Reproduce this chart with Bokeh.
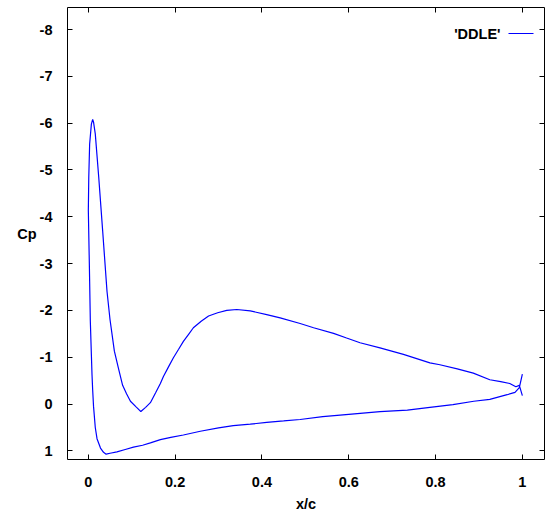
from bokeh.plotting import figure
from bokeh.models import Range1d, LinearAxis, FixedTicker, NumeralTickFormatter, Label, Arrow
from bokeh.embed import file_html
from bokeh.resources import INLINE

# Upper surface, leading edge -> trailing edge
x_upper = [0.000, 0.001, 0.003, 0.007, 0.010, 0.012, 0.016, 0.024, 0.033, 0.043,
           0.050, 0.060, 0.069, 0.079, 0.088, 0.097, 0.110, 0.121, 0.132, 0.143,
           0.155, 0.166, 0.173, 0.185, 0.196, 0.208, 0.219, 0.231, 0.242, 0.260,
           0.277, 0.298, 0.319, 0.342, 0.373, 0.411, 0.442, 0.488, 0.519, 0.565,
           0.595, 0.626, 0.672, 0.726, 0.787, 0.810, 0.850, 0.887, 0.925, 0.950,
           0.971, 0.985, 0.993, 1.000]
cp_upper = [-4.14, -4.84, -5.55, -5.98, -6.08, -6.02, -5.77, -4.84, -3.70, -2.41,
            -1.80, -1.13, -0.78, -0.40, -0.22, -0.06, 0.06, 0.16, 0.07, -0.03,
            -0.24, -0.44, -0.59, -0.80, -0.99, -1.17, -1.34, -1.49, -1.63, -1.77,
            -1.88, -1.95, -2.00, -2.02, -1.99, -1.91, -1.84, -1.72, -1.63, -1.51,
            -1.41, -1.31, -1.20, -1.06, -0.88, -0.84, -0.75, -0.66, -0.52, -0.48,
            -0.44, -0.37, -0.40, -0.18]

# Lower surface, leading edge -> trailing edge
x_lower = [0.000, 0.0025, 0.0046, 0.007, 0.0085, 0.010, 0.012, 0.016, 0.020, 0.028,
           0.035, 0.041, 0.050, 0.066, 0.085, 0.104, 0.125, 0.143, 0.166, 0.190,
           0.219, 0.258, 0.300, 0.334, 0.373, 0.411, 0.450, 0.488, 0.540, 0.600,
           0.672, 0.735, 0.787, 0.840, 0.888, 0.925, 0.965, 0.983, 0.993, 1.000]
cp_lower = [-4.14, -2.90, -1.77, -1.06, -0.62, -0.30, 0.05, 0.50, 0.74, 0.94,
            1.03, 1.07, 1.05, 1.02, 0.97, 0.92, 0.88, 0.83, 0.76, 0.71,
            0.66, 0.58, 0.51, 0.46, 0.43, 0.39, 0.36, 0.33, 0.27, 0.22,
            0.16, 0.13, 0.07, 0.01, -0.06, -0.10, -0.20, -0.25, -0.35, -0.64]

x_ticks = [0, 0.2, 0.4, 0.6, 0.8, 1.0]
y_ticks = [-8, -7, -6, -5, -4, -3, -2, -1, 0, 1]
series_name = "'DDLE'"
x_label = "x/c"
y_label = "Cp"

x_all = x_upper[::-1] + x_lower[1:]
cp_all = cp_upper[::-1] + cp_lower[1:]

FONT = "Liberation Sans"
FSIZE = "14.5px"

p = figure(width=546, height=517, output_backend="svg", toolbar_location=None,
           x_range=Range1d(-0.048, 1.051), y_range=Range1d(1.184, -8.47),
           min_border_left=67, min_border_right=2, min_border_top=7, min_border_bottom=58,
           x_axis_label=x_label, y_axis_label=y_label)
p.background_fill_color = "white"
p.border_fill_color = "white"
p.outline_line_color = "black"
p.outline_line_width = 1
p.outline_line_alpha = 1
p.xgrid.visible = False
p.ygrid.visible = False

p.line(x_all, cp_all, line_color="#0000ff", line_width=1.2)


def style(ax, ticks):
    ax.ticker = FixedTicker(ticks=ticks)
    ax.formatter = NumeralTickFormatter(format="0.[0]")
    ax.major_tick_in = 5
    ax.major_tick_out = 0
    ax.major_tick_line_color = "black"
    ax.major_tick_line_width = 1
    ax.minor_tick_line_color = None
    ax.axis_line_color = None
    ax.major_label_text_font = FONT
    ax.major_label_text_font_style = "bold"
    ax.major_label_text_font_size = FSIZE
    ax.major_label_text_color = "black"
    ax.axis_label_text_font = FONT
    ax.axis_label_text_font_style = "bold"
    ax.axis_label_text_font_size = FSIZE
    ax.axis_label_text_color = "black"


style(p.xaxis[0], x_ticks)
style(p.yaxis[0], y_ticks)
p.xaxis[0].major_label_standoff = 17
p.xaxis[0].axis_label_standoff = 6
p.yaxis[0].major_label_standoff = 15
p.yaxis[0].axis_label_standoff = 0
p.yaxis[0].axis_label_orientation = "horizontal"

top_ax = LinearAxis(ticker=FixedTicker(ticks=x_ticks), major_tick_in=5, major_tick_out=0,
                    minor_tick_line_color=None, axis_line_color=None,
                    major_label_text_font_size="0px", major_label_text_color=None,
                    major_label_standoff=0)
right_ax = LinearAxis(ticker=FixedTicker(ticks=y_ticks), major_tick_in=5, major_tick_out=0,
                      minor_tick_line_color=None, axis_line_color=None,
                      major_label_text_font_size="0px", major_label_text_color=None,
                      major_label_standoff=0)
p.add_layout(top_ax, "above")
p.add_layout(right_ax, "right")

# gnuplot-style key: label left, line sample right
p.add_layout(Label(x=433, y=426, x_units="screen", y_units="screen", text=series_name,
                   text_align="right", text_baseline="middle", text_font=FONT,
                   text_font_style="bold", text_font_size=FSIZE, text_color="black"))
p.add_layout(Arrow(end=None, start=None, x_start=441, y_start=426, x_end=466, y_end=426,
                   start_units="screen", end_units="screen",
                   line_color="#0000ff", line_width=1.2))

open("out.html", "w").write(file_html(p, INLINE))
